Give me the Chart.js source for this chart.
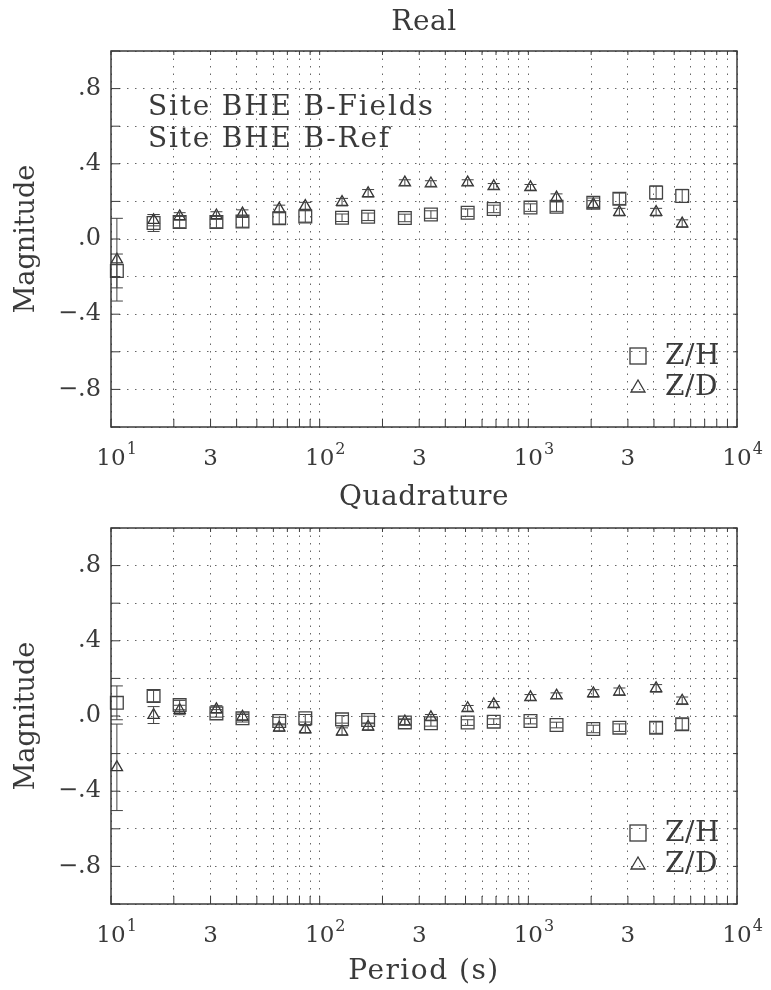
<!DOCTYPE html>
<html>
<head>
<meta charset="utf-8">
<script src="https://cdn.jsdelivr.net/npm/chart.js@4/dist/chart.umd.min.js"></script>
<style>
    html, body { margin: 0; padding: 0; background: #fff; }
    #wrap { position: relative; width: 771px; height: 990px; }
    .panel { position: absolute; left: 0; width: 771px; }
</style>
</head>
<body>
<div id="wrap">
    <div class="panel" style="top:0;height:476px"><canvas id="realChart"></canvas></div>
    <div class="panel" style="top:476px;height:514px"><canvas id="quadChart"></canvas></div>
</div>
<script>
// periods (s)
const periods = [10.67, 16, 21.33, 32, 42.67, 64, 85.33, 128, 170.7, 256, 341.3, 512, 682.7, 1024, 1365, 2048, 2731, 4096, 5461];

// Real part
const realZH    = [-0.17, 0.085, 0.09, 0.09, 0.093, 0.11, 0.12, 0.113, 0.118, 0.112, 0.13, 0.14, 0.16, 0.167, 0.172, 0.193, 0.214, 0.247, 0.229];
const realZHErr = [0.09, 0.045, 0.03, 0.03, 0.03, 0.03, 0.03, 0.02, 0.02, 0.02, 0.02, 0.02, 0.02, 0.02, 0.025, 0.025, 0.03, 0.035, 0.035];
const realZD    = [-0.11, 0.10, 0.12, 0.125, 0.135, 0.16, 0.175, 0.196, 0.243, 0.30, 0.295, 0.30, 0.28, 0.275, 0.22, 0.184, 0.143, 0.143, 0.082];
const realZDErr = [0.22, 0.03, 0.02, 0.02, 0.02, 0.02, 0.02, 0.02, 0.02, 0.015, 0.015, 0.015, 0.015, 0.015, 0.02, 0.02, 0.02, 0.02, 0.02];

// Quadrature part
const quadZH    = [0.07, 0.106, 0.058, 0.014, -0.012, -0.027, -0.012, -0.018, -0.021, -0.034, -0.039, -0.035, -0.03, -0.027, -0.048, -0.069, -0.062, -0.062, -0.044];
const quadZHErr = [0.09, 0.03, 0.025, 0.02, 0.02, 0.02, 0.02, 0.02, 0.02, 0.015, 0.015, 0.015, 0.015, 0.015, 0.015, 0.02, 0.02, 0.03, 0.03];
const quadZD    = [-0.273, 0.005, 0.032, 0.035, -0.004, -0.062, -0.071, -0.083, -0.057, -0.03, -0.007, 0.041, 0.062, 0.099, 0.108, 0.12, 0.129, 0.147, 0.081];
const quadZDErr = [0.23, 0.045, 0.025, 0.02, 0.02, 0.02, 0.02, 0.02, 0.02, 0.015, 0.015, 0.015, 0.015, 0.015, 0.015, 0.02, 0.02, 0.02, 0.02];

// axis labels
const xGridValues = [10, 20, 30, 40, 50, 60, 70, 80, 90, 100, 200, 300, 400, 500, 600, 700, 800, 900,
                     1000, 2000, 3000, 4000, 5000, 6000, 7000, 8000, 9000, 10000];
const xLabelValues = [10, 30, 100, 300, 1000, 3000, 10000];
const xLabelBase   = ['10', '3', '10', '3', '10', '3', '10'];
const xLabelExp    = ['1', '', '2', '', '3', '', '4'];
const yLabelValues = [0.8, 0.4, 0, -0.4, -0.8];
const yLabelText   = ['.8', '.4', '.0', '\u2212.4', '\u2212.8'];

const seriesNames = ['Z/H', 'Z/D'];
const FONT = "'DejaVu Serif', serif";
const INK = '#3a3a3a';
const GRID = '#666';

function setFont(ctx, size, spacing) {
    ctx.font = size + 'px ' + FONT;
    ctx.letterSpacing = (spacing || 0) + 'px';
}

// frame, inner ticks, error bars and texts
function framePlugin(cfg) {
    return {
        id: 'frame',
        afterDatasetsDraw(chart) {
            const ctx = chart.ctx;
            const a = chart.chartArea;
            const xs = chart.scales.x, ys = chart.scales.y;
            ctx.save();

            // error bars
            ctx.strokeStyle = '#444';
            ctx.lineWidth = 1;
            cfg.errors.forEach((err, di) => {
                const vals = cfg.values[di];
                periods.forEach((p, i) => {
                    const x = xs.getPixelForValue(p);
                    const y1 = ys.getPixelForValue(vals[i] + err[i]);
                    const y2 = ys.getPixelForValue(vals[i] - err[i]);
                    ctx.beginPath();
                    ctx.moveTo(x, y1); ctx.lineTo(x, y2);
                    ctx.moveTo(x - 6, y1); ctx.lineTo(x + 6, y1);
                    ctx.moveTo(x - 6, y2); ctx.lineTo(x + 6, y2);
                    ctx.stroke();
                });
            });

            // frame
            ctx.strokeStyle = INK;
            ctx.lineWidth = 1.5;
            ctx.strokeRect(a.left, a.top, a.right - a.left, a.bottom - a.top);

            // inner ticks
            ctx.lineWidth = 1;
            ctx.beginPath();
            xGridValues.forEach(v => {
                const x = xs.getPixelForValue(v);
                ctx.moveTo(x, a.bottom); ctx.lineTo(x, a.bottom - 8);
                ctx.moveTo(x, a.top); ctx.lineTo(x, a.top + 4);
            });
            ys.ticks.forEach(t => {
                const y = ys.getPixelForValue(t.value);
                ctx.moveTo(a.left, y); ctx.lineTo(a.left + 9, y);
                ctx.moveTo(a.right, y); ctx.lineTo(a.right - 4, y);
            });
            ctx.stroke();

            ctx.fillStyle = INK;
            ctx.textBaseline = 'alphabetic';

            // x tick labels with exponents
            xLabelValues.forEach((v, i) => {
                const x = xs.getPixelForValue(v);
                const yb = a.bottom + 38;
                setFont(ctx, 23, 0);
                ctx.textAlign = 'center';
                ctx.fillText(xLabelBase[i], x, yb);
                if (xLabelExp[i]) {
                    const w = ctx.measureText(xLabelBase[i]).width;
                    setFont(ctx, 16, 0);
                    ctx.textAlign = 'left';
                    ctx.fillText(xLabelExp[i], x + w / 2 + 1, yb - 11);
                }
            });

            // panel title
            setFont(ctx, 28, 0.5);
            ctx.textAlign = 'center';
            ctx.fillText(cfg.title, (a.left + a.right) / 2, a.top - cfg.titleGap);

            // x title
            if (cfg.xTitle) {
                setFont(ctx, 28, 1.5);
                ctx.fillText(cfg.xTitle, (a.left + a.right) / 2, a.bottom + 75);
            }

            // notes
            setFont(ctx, 28, 1.8);
            ctx.textAlign = 'left';
            cfg.notes.forEach((n, i) => {
                ctx.fillText(n, a.left + 37, a.top + 64 + i * 32);
            });

            // legend
            ctx.lineWidth = 1.3;
            ctx.strokeStyle = INK;
            const lx = a.right - 99;
            const r1 = a.bottom - 71, r2 = a.bottom - 40;
            ctx.strokeRect(lx - 8, r1 - 8, 16, 16);
            ctx.beginPath();
            ctx.moveTo(lx - 7, r2 + 5); ctx.lineTo(lx + 7, r2 + 5); ctx.lineTo(lx, r2 - 7); ctx.closePath();
            ctx.stroke();
            setFont(ctx, 28, 0.5);
            ctx.textBaseline = 'middle';
            ctx.fillText(seriesNames[0], lx + 27, r1 + 1);
            ctx.fillText(seriesNames[1], lx + 27, r2 + 1);

            ctx.letterSpacing = '0px';
            ctx.restore();
        }
    };
}

function makeChart(id, zh, zd, cfg, xHeight) {
    const ctx = document.getElementById(id);
    return new Chart(ctx.getContext('2d'), {
        type: 'scatter',
        data: {
            datasets: [
                {
                    label: seriesNames[0],
                    data: periods.map((p, i) => ({ x: p, y: zh[i] })),
                    pointStyle: 'rect',
                    pointRadius: 9,
                    backgroundColor: 'rgba(0,0,0,0)',
                    borderColor: '#444',
                    borderWidth: 1.3
                },
                {
                    label: seriesNames[1],
                    data: periods.map((p, i) => ({ x: p, y: zd[i] })),
                    pointStyle: 'triangle',
                    pointRadius: 6.5,
                    backgroundColor: 'rgba(0,0,0,0)',
                    borderColor: '#333',
                    borderWidth: 1.3
                }
            ]
        },
        options: {
            responsive: true,
            maintainAspectRatio: false,
            animation: false,
            clip: false,
            layout: { padding: { top: cfg.top, right: 34, left: 0, bottom: 0 } },
            plugins: {
                legend: { display: false },
                tooltip: { enabled: false },
                title: { display: false }
            },
            scales: {
                x: {
                    type: 'logarithmic',
                    min: 10,
                    max: 10000,
                    afterBuildTicks: (scale) => {
                        scale.ticks = xGridValues.map(v => ({ value: v }));
                    },
                    afterFit: (scale) => { scale.height = xHeight; },
                    ticks: { display: false },
                    grid: { color: GRID, lineWidth: 1, drawTicks: false },
                    border: { display: false, dash: [1.5, 6] }
                },
                y: {
                    min: -1,
                    max: 1,
                    afterFit: (scale) => { scale.width = 111; },
                    ticks: {
                        stepSize: 0.2,
                        padding: 10,
                        color: INK,
                        font: { family: FONT, size: 24 },
                        callback: function(value) {
                            const k = yLabelValues.findIndex(v => Math.abs(v - value) < 1e-6);
                            return k >= 0 ? yLabelText[k] : '';
                        }
                    },
                    grid: { color: GRID, lineWidth: 1, drawTicks: false },
                    border: { display: false, dash: [1.5, 6.5] },
                    title: {
                        display: true,
                        text: 'Magnitude',
                        color: INK,
                        font: { family: FONT, size: 27 },
                        padding: { top: 11, bottom: 0 }
                    }
                }
            }
        },
        plugins: [framePlugin(cfg)]
    });
}

makeChart('realChart', realZH, realZD, {
    top: 51, title: 'Real', titleGap: 21, xTitle: '',
    notes: ['Site BHE B-Fields', 'Site BHE B-Ref'],
    values: [realZH, realZD], errors: [realZHErr, realZDErr]
}, 476 - 427);

makeChart('quadChart', quadZH, quadZD, {
    top: 52, title: 'Quadrature', titleGap: 23, xTitle: 'Period (s)',
    notes: [],
    values: [quadZH, quadZD], errors: [quadZHErr, quadZDErr]
}, 514 - 428);
</script>
</body>
</html>
